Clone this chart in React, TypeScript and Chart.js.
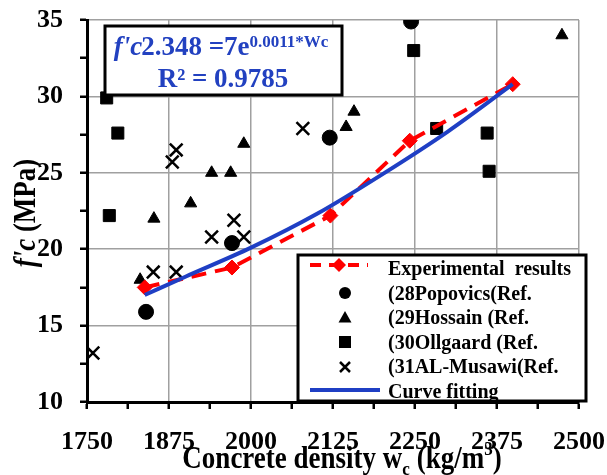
import React, { useEffect, useRef } from 'react';
import { Chart, registerables } from 'chart.js';

Chart.register(...registerables);

// ---- data ----
const expX = [1838, 1971, 2121, 2242, 2399];
const expY = [17.5, 18.8, 22.2, 27.1, 30.8];

const popX = [1840, 1971, 2120, 2244];
const popY = [15.9, 20.4, 27.3, 34.9];

const hosX = [1831, 1852, 1908, 1940, 1969, 1989, 2145, 2157, 2474];
const hosY = [18.0, 22.0, 23.0, 25.0, 25.0, 26.9, 28.0, 29.0, 34.0];

const ollX = [1780, 1797, 1784, 2248, 2283, 2360, 2363];
const ollY = [29.9, 27.6, 22.2, 33.0, 27.9, 27.6, 25.1];

const musX = [1886, 1880, 2079, 1974, 1940, 1989, 1851, 1886, 1759];
const musY = [26.5, 25.7, 27.9, 21.9, 20.8, 20.8, 18.5, 18.5, 13.2];

const fitX = [1838, 1900, 2000, 2100, 2200, 2300, 2399];
const fitY = [17.0, 18.2, 20.1, 22.3, 24.9, 27.7, 30.8];

const xTicks = [1750, 1875, 2000, 2125, 2250, 2375, 2500];
const yTicks = [10, 15, 20, 25, 30, 35];

const legendLabels = [
  'Experimental  results',
  '(28Popovics(Ref.',
  '(29Hossain (Ref.',
  '(30Ollgaard (Ref.',
  '(31AL-Musawi(Ref.',
  'Curve fitting',
];

const eqPrefix = "f'c";
const eqMain = '2.348 =7e';
const eqSup = '0.0011*Wc';
const eqR2 = 'R² = 0.9785';

const xTitleParts = ['Concrete density w', 'c', ' (kg/m', '3', ')'];
const yTitleParts = ["f'c", ' (MPa)'];

// ---- styles ----
const FONT = '"Liberation Serif", "Times New Roman", serif';
const BLUE = '#1f3fc4';
const TEXT_BLUE = '#2241c0';
const RED = '#ff0000';
const GRID = '#a0a0a0';

const pts = (xs: number[], ys: number[]) => xs.map((x, i) => ({ x, y: ys[i] }));

const overlay = {
  id: 'overlay',
  afterDraw(chart: any) {
    const ctx: CanvasRenderingContext2D = chart.ctx;
    ctx.save();

    // ---- equation box ----
    ctx.fillStyle = '#fff';
    ctx.fillRect(105, 26, 237, 69);
    ctx.lineWidth = 3;
    ctx.strokeStyle = '#000';
    ctx.strokeRect(105, 26, 237, 69);

    ctx.fillStyle = TEXT_BLUE;
    ctx.textBaseline = 'alphabetic';
    ctx.textAlign = 'left';
    const fI = `italic bold 27px ${FONT}`;
    const fB = `bold 27px ${FONT}`;
    const fS = `bold 17px ${FONT}`;
    ctx.font = fI;
    const w1 = ctx.measureText(eqPrefix).width - 1;
    ctx.font = fB;
    const w2 = ctx.measureText(eqMain).width;
    ctx.font = fS;
    const w3 = ctx.measureText(eqSup).width;
    let x = 221 - (w1 + w2 + w3) / 2;
    ctx.font = fI;
    ctx.fillText(eqPrefix, x, 55);
    x += w1;
    ctx.font = fB;
    ctx.fillText(eqMain, x, 55);
    x += w2;
    ctx.font = fS;
    ctx.fillText(eqSup, x, 47);
    ctx.font = fB;
    ctx.textAlign = 'center';
    ctx.fillText(eqR2, 223, 87);

    // ---- legend ----
    ctx.fillStyle = '#fff';
    ctx.fillRect(298, 255, 288, 146);
    ctx.save();
    ctx.beginPath();
    ctx.rect(298, 255, 288, 146);
    ctx.clip();
    ctx.fillStyle = '#000';
    ctx.textAlign = 'left';
    ctx.font = `bold 20px ${FONT}`;
    const base = [275, 300, 324, 349, 373, 398];
    legendLabels.forEach((t, i) => ctx.fillText(t, 388, base[i]));
    ctx.restore();

    // red sample
    ctx.strokeStyle = RED;
    ctx.lineWidth = 4;
    ctx.setLineDash([11, 8]);
    ctx.beginPath();
    ctx.moveTo(310, 265);
    ctx.lineTo(368, 265);
    ctx.stroke();
    ctx.setLineDash([]);
    ctx.fillStyle = RED;
    ctx.beginPath();
    ctx.moveTo(339 - 7, 265);
    ctx.lineTo(339, 258);
    ctx.lineTo(339 + 7, 265);
    ctx.lineTo(339, 272);
    ctx.closePath();
    ctx.fill();
    // circle
    ctx.fillStyle = '#000';
    ctx.beginPath();
    ctx.arc(345, 293, 6, 0, Math.PI * 2);
    ctx.fill();
    // triangle
    ctx.beginPath();
    ctx.moveTo(345, 311);
    ctx.lineTo(351.5, 322.5);
    ctx.lineTo(338.5, 322.5);
    ctx.closePath();
    ctx.fill();
    // square
    ctx.fillRect(339, 336, 12, 12);
    // cross
    ctx.strokeStyle = '#000';
    ctx.lineWidth = 2.5;
    ctx.beginPath();
    ctx.moveTo(340, 362);
    ctx.lineTo(350, 372);
    ctx.moveTo(350, 362);
    ctx.lineTo(340, 372);
    ctx.stroke();
    // blue sample
    ctx.strokeStyle = BLUE;
    ctx.lineWidth = 4;
    ctx.beginPath();
    ctx.moveTo(310, 390);
    ctx.lineTo(380, 390);
    ctx.stroke();

    ctx.lineWidth = 3;
    ctx.strokeStyle = '#000';
    ctx.strokeRect(298, 255, 288, 146);

    // ---- x title ----
    ctx.fillStyle = '#000';
    ctx.textAlign = 'left';
    const fT = `bold 27px ${FONT}`;
    const fTs = `bold 17px ${FONT}`;
    const fonts = [fT, fTs, fT, fTs, fT];
    const offs = [0, 6, 0, -11, 0];
    const widths = xTitleParts.map((p, i) => {
      ctx.font = fonts[i];
      return ctx.measureText(p).width;
    });
    const tw = widths.reduce((a, b) => a + b, 0);
    ctx.save();
    ctx.translate(342, 468);
    ctx.scale(1, 1.15);
    let tx = -tw / 2;
    xTitleParts.forEach((p, i) => {
      ctx.font = fonts[i];
      ctx.fillText(p, tx, offs[i]);
      tx += widths[i];
    });
    ctx.restore();

    // ---- y title ----
    ctx.save();
    ctx.translate(35, 213);
    ctx.rotate(-Math.PI / 2);
    ctx.scale(1, 1.15);
    const yf = [`italic bold 27px ${FONT}`, `bold 27px ${FONT}`];
    const yw = yTitleParts.map((p, i) => {
      ctx.font = yf[i];
      return ctx.measureText(p).width;
    });
    let ty = -(yw[0] + yw[1]) / 2;
    yTitleParts.forEach((p, i) => {
      ctx.font = yf[i];
      ctx.fillText(p, ty, 0);
      ty += yw[i];
    });
    ctx.restore();

    ctx.restore();
  },
};

export default function App() {
  const ref = useRef<HTMLCanvasElement | null>(null);

  useEffect(() => {
    document.body.style.margin = '0';
    const canvas = ref.current;
    if (!canvas) return;
    const isMajorX = (v: number) => xTicks.some((t) => Math.abs(t - v) < 1e-6);
    const isMajorY = (v: number) => yTicks.some((t) => Math.abs(t - v) < 1e-6);
    const tickFont = { family: FONT, size: 26, weight: 'bold' as const };

    const chart = new Chart(canvas, {
      type: 'scatter',
      data: {
        datasets: [
          {
            label: 'Curve fitting',
            data: pts(fitX, fitY),
            showLine: true,
            borderColor: BLUE,
            borderWidth: 4,
            pointRadius: 0,
            cubicInterpolationMode: 'monotone',
            order: 0,
          },
          {
            label: 'Experimental results',
            data: pts(expX, expY),
            showLine: true,
            borderColor: RED,
            borderWidth: 4,
            borderDash: [15, 9],
            pointStyle: 'rectRot',
            pointRadius: 7.5,
            pointBackgroundColor: RED,
            pointBorderColor: RED,
            pointBorderWidth: 1,
            order: 1,
          },
          {
            label: '(28Popovics(Ref.',
            data: pts(popX, popY),
            pointStyle: 'circle',
            pointRadius: 7.5,
            pointBackgroundColor: '#000',
            pointBorderColor: '#000',
            pointBorderWidth: 1,
            order: 2,
          },
          {
            label: '(29Hossain (Ref.',
            data: pts(hosX, hosY),
            pointStyle: 'triangle',
            pointRadius: 7,
            pointBackgroundColor: '#000',
            pointBorderColor: '#000',
            pointBorderWidth: 1,
            order: 2,
          },
          {
            label: '(30Ollgaard (Ref.',
            data: pts(ollX, ollY),
            pointStyle: 'rect',
            pointRadius: 8.5,
            pointBackgroundColor: '#000',
            pointBorderColor: '#000',
            pointBorderWidth: 1,
            order: 2,
          },
          {
            label: '(31AL-Musawi(Ref.',
            data: pts(musX, musY),
            pointStyle: 'crossRot',
            pointRadius: 9,
            pointBorderColor: '#000',
            pointBorderWidth: 2.5,
            order: 2,
          },
        ],
      },
      options: {
        responsive: false,
        animation: false,
        devicePixelRatio: 1,
        layout: { padding: { top: 20, right: 28, left: 0, bottom: 0 } },
        plugins: {
          legend: { display: false },
          tooltip: { enabled: false },
          title: { display: false },
        },
        scales: {
          x: {
            type: 'linear',
            min: 1750,
            max: 2500,
            ticks: {
              stepSize: 62.5,
              autoSkip: false,
              maxRotation: 0,
              minRotation: 0,
              color: '#000',
              font: tickFont,
              padding: 18,
              callback: (v: any) => (isMajorX(Number(v)) ? String(v) : ''),
            },
            grid: {
              color: (c: any) => (c.tick && isMajorX(c.tick.value) ? GRID : 'rgba(0,0,0,0)'),
              lineWidth: 1.5,
              tickColor: '#000',
              tickLength: 7,
              tickWidth: 2.5,
            },
            border: { color: '#000', width: 3 },
            afterFit: (s: any) => {
              s.height = 73;
              s.paddingLeft = 0;
              s.paddingRight = 0;
            },
          },
          y: {
            type: 'linear',
            min: 10,
            max: 35,
            ticks: {
              stepSize: 2.5,
              autoSkip: false,
              color: '#000',
              font: tickFont,
              padding: 17,
              callback: (v: any) => (isMajorY(Number(v)) ? String(v) : ''),
            },
            grid: {
              color: (c: any) => (c.tick && isMajorY(c.tick.value) ? GRID : 'rgba(0,0,0,0)'),
              lineWidth: 1.5,
              tickColor: '#000',
              tickLength: 7,
              tickWidth: 2.5,
            },
            border: { color: '#000', width: 3 },
            afterFit: (s: any) => {
              s.width = 87;
              s.paddingTop = 0;
              s.paddingBottom = 0;
            },
          },
        },
      } as any,
      plugins: [overlay],
    });

    return () => chart.destroy();
  }, []);

  return (
    <div style={{ width: 607, height: 475, background: '#fff' }}>
      <canvas ref={ref} width={607} height={475} style={{ display: 'block' }} />
    </div>
  );
}
